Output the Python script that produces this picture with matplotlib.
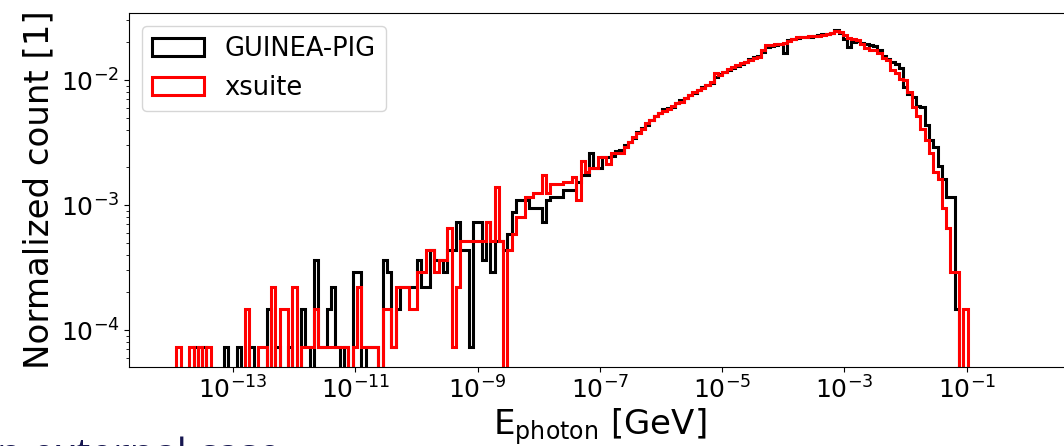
import numpy as np
import matplotlib
matplotlib.use("Agg")
import matplotlib.pyplot as plt
from matplotlib.ticker import LogFormatterSciNotation

# histogram bins: 199 log bins between 1e-14 and 1 GeV
log_edge_min = -14
log_edge_max = 0
n_edges = 200
n_total = 13700  # photons per sample, counts are divided by this

# counts per bin
xsuite_counts = [
    0, 1, 0, 0, 1, 0, 1, 0, 1, 0,
    0, 0, 0, 0, 0, 0, 0, 2, 0, 0,
    1, 1, 0, 3, 0, 2, 2, 0, 3, 0,
    1, 1, 1, 2, 1, 1, 1, 1, 1, 1,
    1, 0, 1, 3, 1, 1, 1, 1, 0, 2,
    2, 1, 3, 3, 3, 2, 2, 4, 4, 6,
    6, 4, 5, 5, 9, 1, 3, 7, 7, 7,
    7, 7, 7, 10, 7, 19, 7, 0, 6, 8,
    11, 11, 16, 16, 17, 17, 24, 17, 20, 20,
    20, 21, 21, 23, 15, 31, 25, 27, 27, 33,
    33, 29, 36, 36, 36, 40, 44, 48, 52, 56,
    62, 66, 70, 75, 78, 80, 85, 89, 92, 98,
    104, 110, 113, 118, 125, 133, 155, 150, 160, 168,
    175, 180, 186, 192, 198, 205, 210, 240, 261, 262,
    265, 268, 270, 280, 290, 300, 304, 300, 306, 308,
    308, 312, 318, 324, 338, 330, 315, 295, 290, 285,
    265, 246, 240, 238, 225, 205, 198, 165, 155, 140,
    137, 110, 84, 70, 56, 45, 36, 25, 22, 13,
    9, 4, 4, 0, 2, 0, 0, 0, 0, 0,
    0, 0, 0, 0, 0, 0, 0, 0, 0,
]

gp_counts = [
    0, 0, 0, 0, 0, 1, 0, 1, 0, 0,
    0, 0, 1, 0, 0, 1, 0, 0, 1, 0,
    0, 0, 2, 0, 1, 0, 0, 1, 0, 0,
    2, 1, 0, 5, 1, 1, 2, 3, 1, 0,
    1, 0, 4, 4, 0, 1, 1, 1, 0, 5,
    4, 1, 2, 3, 3, 3, 3, 5, 3, 3,
    6, 5, 5, 4, 6, 6, 10, 6, 6, 1,
    10, 10, 5, 10, 4, 7, 7, 6, 8, 12,
    15, 15, 15, 13, 13, 13, 10, 15, 16, 16,
    16, 18, 18, 18, 21, 24, 24, 36, 27, 27,
    33, 33, 34, 37, 38, 41, 44, 47, 53, 57,
    60, 65, 71, 74, 80, 82, 84, 90, 94, 99,
    103, 108, 115, 120, 126, 130, 145, 152, 158, 165,
    172, 178, 185, 190, 200, 208, 215, 230, 250, 258,
    262, 266, 224, 285, 292, 296, 302, 305, 305, 310,
    315, 318, 322, 328, 343, 325, 290, 250, 275, 280,
    270, 265, 262, 258, 240, 215, 200, 190, 185, 170,
    120, 105, 100, 85, 84, 60, 45, 40, 28, 22,
    16, 16, 2, 0, 0, 0, 0, 0, 0, 0,
    0, 0, 0, 0, 0, 0, 0, 0, 0,
]

xtick_exp = [-13, -11, -9, -7, -5, -3, -1]

edges = np.logspace(log_edge_min, log_edge_max, n_edges)
centers = np.sqrt(edges[:-1] * edges[1:])
gp = np.array(gp_counts) / n_total
xs = np.array(xsuite_counts) / n_total

fig = plt.figure(figsize=(10.64, 4.46), dpi=100)
ax = fig.add_axes([0.1215, 0.1778, 0.8847, 0.7937])

ax.hist(centers, bins=edges, weights=gp, histtype="step", color="black",
        linewidth=2.2, label="GUINEA-PIG")
ax.hist(centers, bins=edges, weights=xs, histtype="step", color="red",
        linewidth=2.2, label="xsuite")

ax.set_xscale("log")
ax.set_yscale("log")
ax.set_xlim(10**-14.7, 10**0.7)
ax.set_ylim(10**-4.2936, 10**-1.4616)

ax.set_xticks([10.0**e for e in xtick_exp])
ax.xaxis.set_major_formatter(LogFormatterSciNotation())
ax.xaxis.set_minor_locator(matplotlib.ticker.NullLocator())
ax.tick_params(axis="both", which="major", labelsize=18)

ax.set_xlabel(r"E$_\mathrm{photon}$ [GeV]", fontsize=24.5, labelpad=2)
ax.set_ylabel("Normalized count [1]", fontsize=24.5)
ax.spines["right"].set_visible(False)

ax.legend(loc="upper left", fontsize=18.5)

# leftover slide text cut by the bottom edge
fig.text(-0.003, -0.046, "n external case", fontsize=29, color="#161650",
         family="Open Sans", va="baseline")

fig.savefig("out.png", dpi=100)
